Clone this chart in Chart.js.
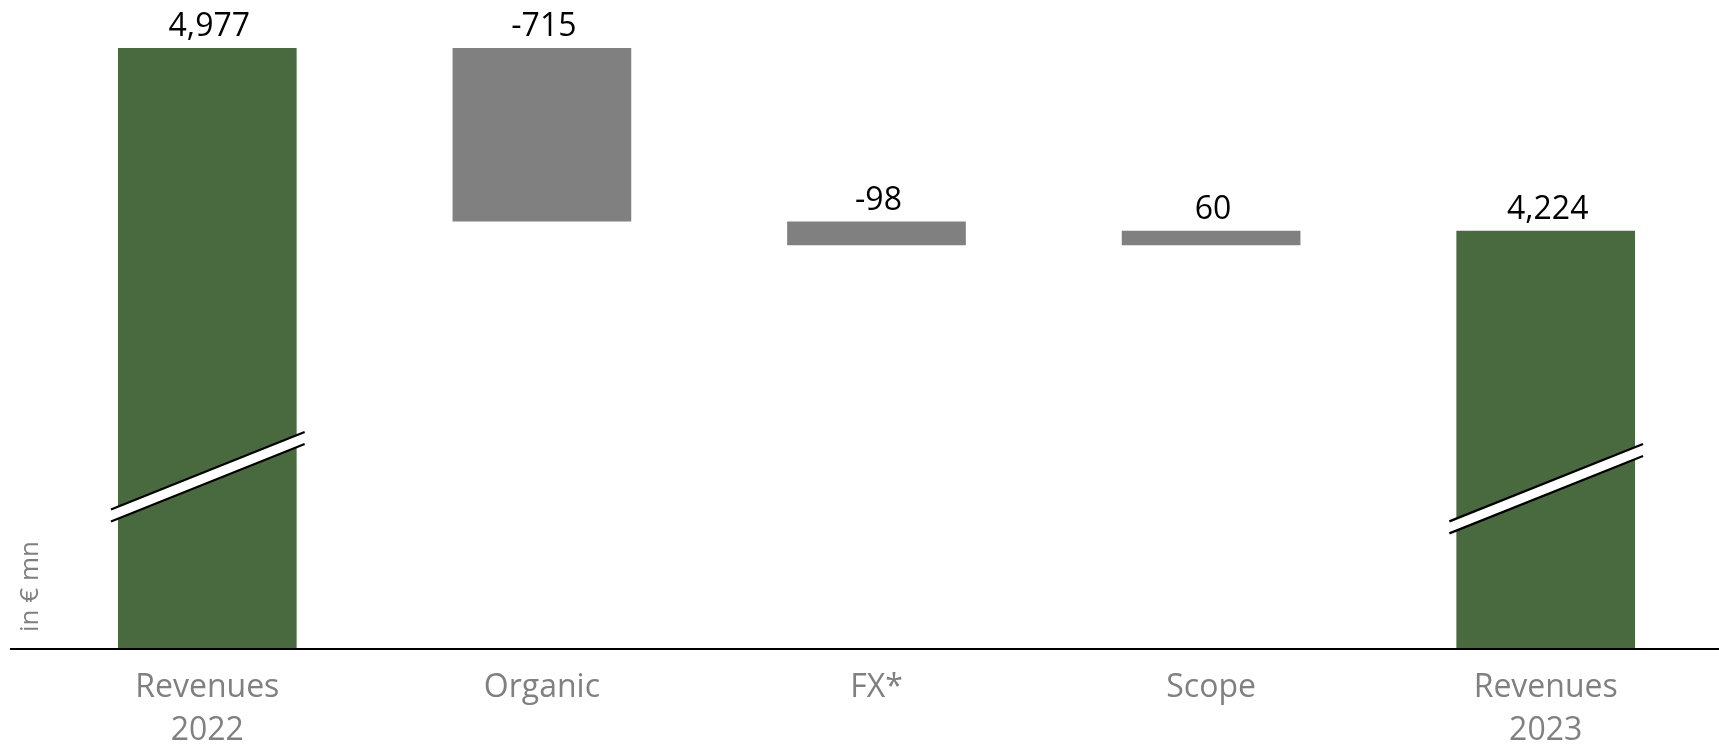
<!DOCTYPE html>
<html>
<head>
<meta charset="utf-8">
<script src="https://cdn.jsdelivr.net/npm/chart.js@4/dist/chart.umd.min.js"></script>
<style>
html,body{margin:0;padding:0;background:#fff;overflow:hidden}
</style>
</head>
<body>
<canvas id="chart" width="1719" height="751"></canvas>
<script>
// data
const categories=[['Revenues','2022'],'Organic','FX*','Scope',['Revenues','2023']];
const values=[4977,-715,-98,60,4224];
const isTotal=[true,false,false,false,true];
const valueLabels=['4,977','-715','-98','60','4,224'];
const axisMin=2500, axisMax=5150; // truncated axis (break marks on totals)
const breakAt=[3209,null,null,null,3160];

const GREEN='#496a3e', GREY='#808080';

// waterfall ranges
let run=0;
const ranges=values.map((v,i)=>{
  if(isTotal[i]){run=v;return [axisMin,v];}
  let a=run; run+=v;
  return [Math.min(a,run),Math.max(a,run)];
});

// --- plugin: labels, break marks, baseline, unit ---
const deco={
  id:'deco',
  afterDatasetsDraw(chart){
    const ctx=chart.ctx, y=chart.scales.y, area=chart.chartArea;
    const meta=chart.getDatasetMeta(0);
    ctx.save();
    // break marks
    meta.data.forEach((el,i)=>{
      if(breakAt[i]==null) return;
      let cy=y.getPixelForValue(breakAt[i]);
      let x0=el.x-el.width/2-7, x1=el.x+el.width/2+8;
      let slope=-0.4, half=6;
      let yl=cy+(x0-el.x)*slope, yr=cy+(x1-el.x)*slope;
      ctx.fillStyle='#fff';
      ctx.beginPath();
      ctx.moveTo(x0,yl-half);ctx.lineTo(x1,yr-half);ctx.lineTo(x1,yr+half);ctx.lineTo(x0,yl+half);
      ctx.closePath();ctx.fill();
      ctx.strokeStyle='#000';ctx.lineWidth=2.2;
      ctx.beginPath();ctx.moveTo(x0,yl-half);ctx.lineTo(x1,yr-half);ctx.stroke();
      ctx.beginPath();ctx.moveTo(x0,yl+half);ctx.lineTo(x1,yr+half);ctx.stroke();
    });
    // value labels
    ctx.font='32px "Open Sans"';ctx.fillStyle='#000';
    ctx.textAlign='center';ctx.textBaseline='middle';
    meta.data.forEach((el,i)=>{
      let top=Math.min(el.y,el.base);
      ctx.fillText(valueLabels[i],el.x+2,top-21);
    });
    // baseline
    let by=y.getPixelForValue(axisMin);
    ctx.strokeStyle='#000';ctx.lineWidth=2;
    ctx.beginPath();ctx.moveTo(10,by);ctx.lineTo(chart.width,by);ctx.stroke();
    // unit
    ctx.translate(area.left-9,by-17);ctx.rotate(-Math.PI/2);
    ctx.font='26px "Open Sans"';ctx.fillStyle=GREY;
    ctx.textAlign='left';ctx.textBaseline='middle';
    ctx.fillText('in € mn',0,0);
    ctx.restore();
  }
};

new Chart(document.getElementById('chart'),{
  type:'bar',
  data:{
    labels:categories,
    datasets:[{
      data:ranges,
      backgroundColor:isTotal.map(t=>t?GREEN:GREY),
      borderWidth:0,
      categoryPercentage:1,
      barPercentage:0.534
    }]
  },
  options:{
    responsive:false,
    animation:false,
    layout:{padding:{left:40,right:6,top:6,bottom:0}},
    plugins:{legend:{display:false},tooltip:{enabled:false}},
    scales:{
      x:{
        grid:{display:false,drawTicks:false},
        border:{display:false},
        ticks:{font:{family:'Open Sans',size:32,lineHeight:1.35},color:GREY,padding:17,maxRotation:0,autoSkip:false},
        afterFit(s){s.height=102;}
      },
      y:{display:false,min:axisMin,max:axisMax}
    }
  },
  plugins:[deco]
});
</script>
</body>
</html>
